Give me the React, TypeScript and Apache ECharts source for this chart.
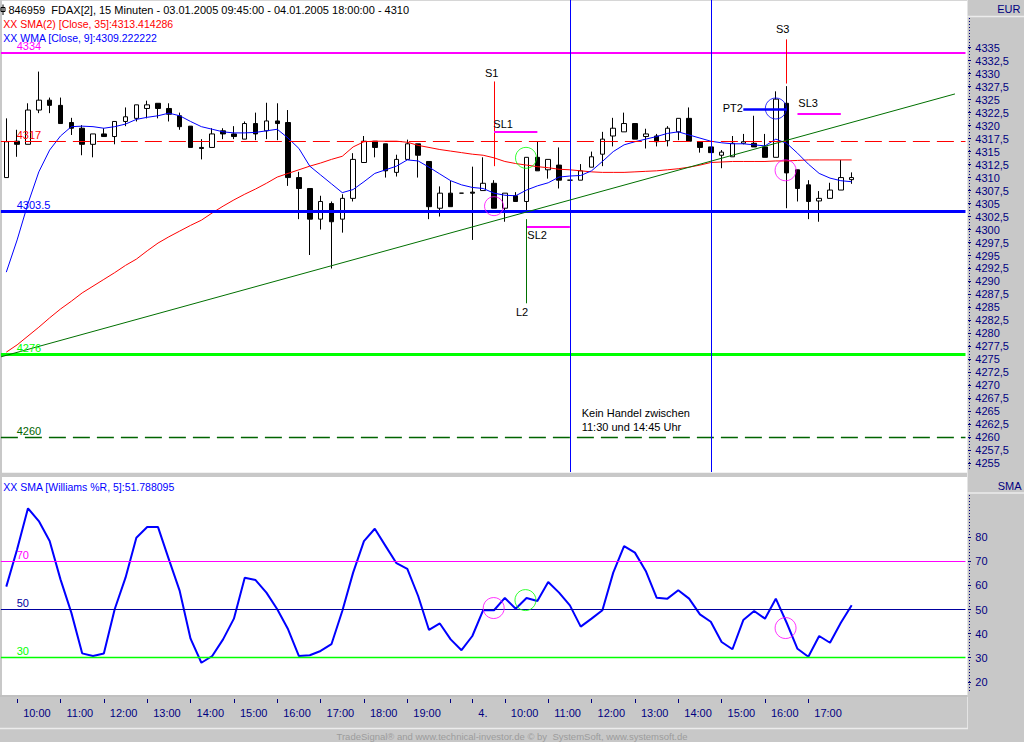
import React, { useEffect, useRef } from 'react';
import * as echarts from 'echarts';

// ---------- DATA ----------
const opens = [
  4310.0, 4317.0, 4316.4, 4323.0, 4324.9, 4323.9, 4320.6, 4319.5, 4316.4, 4318.4,
  4317.9, 4320.8, 4321.4, 4323.3, 4324.3, 4323.3, 4321.9, 4319.9, 4315.8, 4315.8,
  4319.0, 4318.4, 4317.4, 4320.4, 4319.0, 4320.9, 4320.6, 4310.0, 4307.9, 4302.0,
  4305.0, 4302.0, 4306.0, 4312.9, 4317.0, 4316.5, 4311.0, 4313.5, 4316.5, 4313.1,
  4304.1, 4307.0, 4307.0, 4307.2, 4307.5, 4308.9, 4304.1, 4306.5, 4305.4, 4313.9,
  4311.5, 4312.4, 4309.5, 4309.5, 4312.0, 4314.5, 4318.0, 4318.8, 4320.4, 4317.9,
  4318.0, 4317.1, 4318.8, 4321.4, 4316.9, 4315.9, 4314.3, 4314.0, 4316.6, 4316.6,
  4315.9, 4313.9, 4324.3, 4311.5, 4308.6, 4305.5, 4306.0, 4307.6, 4309.6,
];
const closes = [
  4316.9, 4316.4, 4323.0, 4324.9, 4323.9, 4320.4, 4319.5, 4316.4, 4318.4, 4317.9,
  4320.8, 4321.7, 4324.0, 4324.0, 4323.3, 4322.2, 4319.8, 4315.8, 4315.6, 4318.4,
  4318.4, 4317.9, 4320.4, 4318.4, 4320.9, 4320.4, 4310.0, 4307.9, 4302.0, 4305.4,
  4301.5, 4306.0, 4313.5, 4317.0, 4315.8, 4311.3, 4313.5, 4316.5, 4314.3, 4304.4,
  4307.0, 4304.4, 4307.0, 4307.0, 4308.9, 4304.1, 4307.0, 4305.4, 4313.9, 4311.3,
  4313.5, 4309.5, 4309.5, 4311.3, 4314.0, 4317.4, 4319.5, 4320.4, 4317.4, 4318.4,
  4316.9, 4319.5, 4321.4, 4317.0, 4315.8, 4314.8, 4314.9, 4316.6, 4316.9, 4315.9,
  4313.9, 4325.1, 4310.9, 4307.9, 4305.4, 4306.0, 4307.6, 4310.0, 4310.0,
];
const lows = [
  4310.0, 4314.0, 4316.4, 4322.4, 4322.4, 4320.4, 4318.2, 4314.3, 4313.9, 4317.9,
  4316.4, 4319.9, 4320.8, 4321.4, 4321.4, 4320.8, 4319.2, 4315.8, 4313.5, 4315.8,
  4317.4, 4317.4, 4317.4, 4317.2, 4317.4, 4317.2, 4308.4, 4302.0, 4295.1, 4300.0,
  4292.5, 4299.4, 4305.4, 4312.9, 4313.9, 4310.0, 4310.2, 4313.5, 4310.0, 4302.0,
  4302.5, 4304.4, 4307.0, 4298.0, 4307.5, 4304.1, 4301.5, 4305.4, 4303.4, 4311.3,
  4309.8, 4307.9, 4309.5, 4309.5, 4312.0, 4312.2, 4316.0, 4318.8, 4317.4, 4315.6,
  4316.0, 4316.0, 4317.2, 4317.0, 4314.8, 4314.8, 4311.8, 4314.0, 4316.4, 4315.9,
  4313.9, 4313.9, 4304.1, 4305.4, 4302.0, 4301.5, 4306.0, 4307.6, 4308.8,
];
const highs = [
  4321.4, 4319.2, 4324.3, 4330.4, 4325.4, 4325.4, 4321.5, 4320.1, 4318.4, 4319.5,
  4320.8, 4323.5, 4324.0, 4324.8, 4324.3, 4324.3, 4322.5, 4319.9, 4317.4, 4319.5,
  4319.5, 4319.9, 4320.8, 4322.5, 4324.4, 4324.3, 4323.0, 4311.1, 4307.9, 4306.5,
  4305.4, 4306.8, 4314.7, 4318.0, 4317.0, 4316.5, 4314.4, 4317.3, 4316.5, 4313.1,
  4308.3, 4309.4, 4307.0, 4312.1, 4313.9, 4309.5, 4307.0, 4307.2, 4313.9, 4317.0,
  4313.5, 4315.8, 4309.5, 4312.6, 4315.0, 4318.8, 4321.5, 4322.5, 4320.4, 4319.4,
  4318.4, 4319.9, 4321.4, 4323.5, 4316.9, 4315.9, 4315.3, 4318.0, 4318.4, 4321.9,
  4318.4, 4326.6, 4327.6, 4311.5, 4309.5, 4307.4, 4309.0, 4313.4, 4311.0,
];
const wma9 = [
  4291.8, 4298.0, 4305.0, 4311.1, 4315.3, 4318.0, 4319.8, 4319.9, 4319.8, 4319.5,
  4319.8, 4320.3, 4321.2, 4321.6, 4321.9, 4322.4, 4321.9, 4320.8, 4319.8, 4319.3,
  4318.8, 4318.6, 4318.6, 4318.7, 4319.0, 4319.3, 4317.6, 4315.6, 4312.2, 4310.5,
  4308.8, 4307.1, 4307.7, 4309.2, 4310.8, 4311.5, 4312.2, 4313.4, 4313.2, 4312.0,
  4310.7, 4309.4, 4308.6, 4308.1, 4307.9, 4307.0, 4306.6, 4306.5, 4307.6, 4308.4,
  4309.0, 4310.1, 4310.3, 4310.4, 4311.3, 4313.1, 4315.0, 4316.3, 4316.9, 4317.4,
  4317.9, 4318.5, 4318.8, 4318.2, 4317.6, 4317.0, 4316.7, 4316.5, 4316.5, 4316.3,
  4316.1, 4317.4, 4316.6, 4314.7, 4312.6, 4310.8, 4309.9, 4309.4, 4309.2,
];
const sma35 = [
  4276.4, 4277.8, 4279.5, 4281.2, 4283.0, 4284.7, 4286.2, 4287.8, 4289.1, 4290.4,
  4291.7, 4293.1, 4294.3, 4295.9, 4297.4, 4298.6, 4299.7, 4300.8, 4301.8, 4303.2,
  4304.5, 4305.7, 4306.8, 4307.8, 4308.9, 4310.1, 4310.8, 4311.5, 4312.2, 4312.8,
  4313.5, 4314.1, 4315.9, 4316.9, 4317.0, 4317.0, 4317.0, 4316.8, 4316.2, 4315.8,
  4315.4, 4315.1, 4314.8, 4314.5, 4314.3, 4313.8, 4313.1, 4312.7, 4312.4, 4312.1,
  4311.9, 4311.6, 4311.5, 4311.3, 4311.1, 4311.0, 4311.0, 4311.0, 4311.1, 4311.2,
  4311.3, 4311.5, 4311.7, 4312.0, 4312.4, 4312.9, 4313.0, 4313.1, 4313.1, 4313.1,
  4313.1, 4313.2, 4313.2, 4313.3, 4313.4, 4313.4, 4313.4, 4313.4, 4313.4,
];
const williamsSma = [
  59.5, 75.0, 92.0, 86.7, 78.4, 62.5, 48.7, 31.8, 30.7, 31.7,
  50.1, 63.2, 79.8, 84.2, 84.2, 70.8, 57.7, 37.9, 27.9, 30.7,
  37.6, 46.2, 63.2, 62.2, 57.0, 50.1, 41.8, 30.7, 31.0, 32.8,
  35.6, 49.4, 65.3, 78.4, 83.5, 76.3, 69.2, 66.9, 55.6, 41.5,
  44.2, 37.6, 33.1, 39.0, 49.7, 49.7, 54.8, 50.3, 54.8, 53.5,
  61.4, 57.0, 51.7, 42.9, 46.2, 49.7, 65.3, 76.3, 73.6, 66.0,
  54.9, 54.5, 58.0, 54.5, 48.0, 44.9, 36.5, 33.5, 45.6, 49.4,
  46.2, 54.5, 44.5, 33.7, 30.4, 39.0, 36.2, 44.5, 51.8,
];

// horizontal price levels
const priceLevels = [4334, 4317, 4303.5, 4276, 4260];
const priceLevelLabels = ['4334', '4317', '4303.5', '4276', '4260'];
// Williams %R levels
const wrLevels = [70, 50, 30];
// vertical lines at bars 11:30 and 14:45 (day 2)
const markerBars = [52, 65];
// trend line [barIndex, price]
const trendLine = [[-0.49, 4275.5], [87.53, 4326.1]];
// signal segments [bar1, price1, bar2, price2]
const segS1 = [45, 4328.5, 45, 4312.2];
const segSL1 = [45, 4318.8, 49, 4318.8];
const segSL2 = [48, 4300.6, 52, 4300.6];
const segL2 = [48, 4302.0, 48, 4285.8];
const segS3 = [72, 4336.6, 72, 4328.1];
const segPT2 = [68, 4323.1, 72, 4323.1];
const segSL3 = [73, 4322.2, 77, 4322.2];
// circles [bar, value]
const priceCircles = [[45.0, 4304.5], [47.95, 4313.8], [71.0, 4323.3], [71.9, 4311.4]];
const wrCircles = [[44.97, 50.6], [47.9, 53.9], [71.9, 42.3]];

// x-axis ticks and labels
const tickIndex = [1, 5, 9, 13, 17, 21, 25, 29, 33, 37, 41, 43, 46, 50, 54, 58, 62, 66, 70, 74];
const tickLabel = ['10:00', '11:00', '12:00', '13:00', '14:00', '15:00', '16:00', '17:00', '18:00', '19:00', '',
  '4.', '10:00', '11:00', '12:00', '13:00', '14:00', '15:00', '16:00', '17:00'];

function makeTimes(day: string, h: number, m: number, count: number): string[] {
  const out: string[] = [];
  let t = h * 60 + m;
  for (let k = 0; k < count; k++) {
    const hh = String(Math.floor(t / 60)).padStart(2, '0');
    const mm = String(t % 60).padStart(2, '0');
    out.push(day + ' ' + hh + ':' + mm);
    t += 15;
  }
  return out;
}
const barTimes = [...makeTimes('03.01', 9, 45, 43), ...makeTimes('04.01', 9, 15, 36)];
const SLOTS = 89;
const categories = [...barTimes];
for (let k = barTimes.length; k < SLOTS; k++) categories.push('#' + k);

// ---------- STYLE ----------
const FONT = '"Liberation Sans", Arial, sans-serif';
const GREY = '#c8c8c8';
const NAVY = '#000080';
const MAGENTA = '#ff00ff';
const RED = '#ff0000';
const BLUE = '#0000ff';
const LIME = '#00ff00';
const DKGREEN = '#006400';

const levelStyles = [
  { color: MAGENTA, width: 2, type: 'solid' },
  { color: RED, width: 1, type: [17, 7] },
  { color: BLUE, width: 3, type: 'solid' },
  { color: LIME, width: 3, type: 'solid' },
  { color: DKGREEN, width: 1.3, type: [17, 7] },
];
const levelLabelColors = [MAGENTA, RED, BLUE, LIME, DKGREEN];
const wrStyles = [
  { color: MAGENTA, width: 1 },
  { color: '#0000a0', width: 1 },
  { color: LIME, width: 1.3 },
];
const wrLabelColors = [MAGENTA, '#0000a0', LIME];

function seg(s: number[], style: any) {
  return [{ coord: [s[0], s[1]], lineStyle: style }, { coord: [s[2], s[3]] }];
}

function txt(x: number, y: number, text: string, color: string, size = 11, align = 'left') {
  return {
    type: 'text', x, y, z: 50, silent: true,
    style: {
      text, fill: color, font: `${size}px ${FONT}`,
      align, verticalAlign: 'middle', textAlign: align, textVerticalAlign: 'middle',
    },
  };
}
function hline(x1: number, x2: number, y: number, color: string, w = 1, z = 40) {
  return { type: 'line', z, silent: true, shape: { x1, y1: y, x2, y2: y }, style: { stroke: color, lineWidth: w } };
}
function vline(x: number, y1: number, y2: number, color: string, w = 1, dash?: number[]) {
  return { type: 'line', z: 40, silent: true, shape: { x1: x, y1, x2: x, y2 }, style: { stroke: color, lineWidth: w, lineDash: dash } };
}

function buildOption() {
  const candleData = opens.map((o, i) => [o, closes[i], lows[i], highs[i]]);
  const tickSet = new Set(tickIndex);
  const labelOf: Record<number, string> = {};
  tickIndex.forEach((idx, k) => { labelOf[idx] = tickLabel[k]; });

  const mainTop = 0, mainH = 472;
  const yMin = 4253.33, yMax = 4344.18;
  const yPix = (v: number) => mainTop + (yMax - v) / (yMax - yMin) * mainH;
  const subTop = 477, subH = 218;
  const wMin = 14.52, wMax = 104.98;
  const wPix = (v: number) => subTop + (wMax - v) / (wMax - wMin) * subH;

  const labelAxis = (gridIndex: number, min: number, max: number, interval: number) => ({
    type: 'value', gridIndex, min, max, interval, position: 'right',
    axisLine: { show: false },
    axisTick: { show: true, length: 3, lineStyle: { color: NAVY } },
    axisLabel: {
      color: NAVY, fontSize: 11, fontFamily: FONT, margin: 6,
      formatter: (v: number) => String(v).replace('.', ','),
    },
    splitLine: { show: false },
  });

  const graphics: any[] = [
    { type: 'rect', z: -10, silent: true, shape: { x: 2, y: 0.8, width: 965, height: 471.9 }, style: { fill: '#ffffff' } },
    { type: 'rect', z: -10, silent: true, shape: { x: 2, y: 477, width: 965, height: 218 }, style: { fill: '#ffffff' } },
    vline(967.5, 0, 728, '#e4e4e4', 1),
    hline(967, 1024, 16.5, '#ececec', 1.5),
    hline(967, 1024, 493, '#ececec', 1.5),
    hline(0, 968, 728.5, '#ececec', 1.5),
    hline(0, 968, 696, '#b8b8b8', 1),
    vline(969.5, 18, 470, NAVY, 1, [1, 2]),
    vline(969.5, 495, 692, NAVY, 1, [1, 2]),
    { type: 'rect', z: 50, silent: true, shape: { x: 1, y: 7.5, width: 4, height: 4 }, style: { fill: 'none', stroke: '#000', lineWidth: 1 } },
    vline(3, 4.5, 15, '#000', 1),
    txt(8.5, 10, '846959  FDAX[2], 15 Minuten - 03.01.2005 09:45:00 - 04.01.2005 18:00:00 - 4310', '#000', 11),
    txt(3.3, 23.5, 'XX SMA(2) [Close, 35]:4313.414286', RED, 10.5),
    txt(3.3, 37.5, 'XX WMA [Close, 9]:4309.222222', BLUE, 10.5),
    txt(3.3, 486.5, 'XX SMA [Williams %R, 5]:51.788095', BLUE, 10.5),
    txt(1020.5, 8.5, 'EUR', NAVY, 11, 'right'),
    txt(1021.5, 485.5, 'SMA', NAVY, 11, 'right'),
    txt(485, 72.5, 'S1', '#000'),
    txt(493.3, 123.8, 'SL1', '#000'),
    txt(527.3, 235, 'SL2', '#000'),
    txt(516, 312.3, 'L2', '#000'),
    txt(776, 29.2, 'S3', '#000'),
    txt(722.7, 107.5, 'PT2', '#000'),
    txt(798.3, 103.3, 'SL3', '#000'),
    txt(581.7, 412.8, 'Kein Handel zwischen', '#000'),
    txt(581.7, 426.7, '11:30 und 14:45 Uhr', '#000'),
    txt(512, 736, 'TradeSignal\u00ae and www.technical-investor.de \u00a9 by  SystemSoft, www.systemsoft.de', '#9c9c9c', 9.5, 'center'),
  ];
  priceLevels.forEach((v, k) => graphics.push(txt(16.7, yPix(v) - 6.5, priceLevelLabels[k], levelLabelColors[k])));
  wrLevels.forEach((v, k) => graphics.push(txt(16.7, wPix(v) - 6.5, String(v), wrLabelColors[k])));

  return {
    animation: false,
    backgroundColor: GREY,
    textStyle: { fontFamily: FONT },
    grid: [
      { left: 0.88, top: mainTop, width: 964.6, height: mainH },
      { left: 968, top: 47.7, width: 1.3, height: 415.6 },
      { left: 0.88, top: subTop, width: 964.6, height: subH },
      { left: 968, top: 537.2, width: 1.3, height: 144.6 },
    ],
    xAxis: [
      { type: 'category', gridIndex: 0, data: categories, boundaryGap: true, show: false },
      { type: 'value', gridIndex: 0, min: -0.5, max: SLOTS - 0.5, show: false },
      {
        type: 'category', gridIndex: 2, data: categories, boundaryGap: true, position: 'bottom', offset: 4,
        axisLine: { show: false },
        axisTick: {
          show: true, alignWithLabel: true, length: 4, lineStyle: { color: NAVY },
          interval: (idx: number) => tickSet.has(idx),
        },
        axisLabel: {
          color: NAVY, fontSize: 11, fontFamily: FONT, margin: 8, align: 'left', padding: [0, 0, 0, 6],
          interval: (idx: number) => tickSet.has(idx) && labelOf[idx] !== '',
          formatter: (_v: string, idx: number) => labelOf[idx] || '',
        },
        splitLine: { show: false },
      },
      { type: 'value', gridIndex: 2, min: -0.5, max: SLOTS - 0.5, show: false },
      { type: 'value', gridIndex: 1, show: false },
      { type: 'value', gridIndex: 3, show: false },
    ],
    yAxis: [
      { type: 'value', gridIndex: 0, min: yMin, max: yMax, show: false },
      labelAxis(1, 4255, 4335, 2.5),
      { type: 'value', gridIndex: 2, min: wMin, max: wMax, show: false },
      labelAxis(3, 20, 80, 10),
    ],
    series: [
      {
        type: 'candlestick', xAxisIndex: 0, yAxisIndex: 0, data: candleData, barWidth: 5, z: 3, silent: true,
        itemStyle: { color: '#ffffff', color0: '#000000', borderColor: '#000000', borderColor0: '#000000', borderWidth: 1 },
      },
      {
        type: 'line', xAxisIndex: 0, yAxisIndex: 0, data: sma35, symbol: 'none', z: 4, silent: true,
        lineStyle: { color: RED, width: 1 },
      },
      {
        type: 'line', xAxisIndex: 0, yAxisIndex: 0, data: wma9, symbol: 'none', z: 4, silent: true,
        lineStyle: { color: BLUE, width: 1 },
      },
      {
        type: 'line', xAxisIndex: 1, yAxisIndex: 0, data: [], z: 5, silent: true,
        markLine: {
          silent: true, symbol: ['none', 'none'], label: { show: false }, emphasis: { disabled: true },
          data: [
            ...priceLevels.map((v, k) => ({ yAxis: v, lineStyle: levelStyles[k] })),
            ...markerBars.map((b) => ({ xAxis: b, lineStyle: { color: BLUE, width: 1, type: 'solid' } })),
            [{ coord: trendLine[0], lineStyle: { color: '#007000', width: 1, type: 'solid' } }, { coord: trendLine[1] }],
            seg(segS1, { color: RED, width: 1, type: 'solid' }),
            seg(segSL1, { color: MAGENTA, width: 2, type: 'solid' }),
            seg(segSL2, { color: MAGENTA, width: 2, type: 'solid' }),
            seg(segL2, { color: '#007000', width: 1, type: 'solid' }),
            seg(segS3, { color: RED, width: 1, type: 'solid' }),
            seg(segPT2, { color: BLUE, width: 2.5, type: 'solid' }),
            seg(segSL3, { color: MAGENTA, width: 2, type: 'solid' }),
          ],
        },
      },
      {
        type: 'scatter', xAxisIndex: 1, yAxisIndex: 0, z: 6, silent: true, symbol: 'circle',
        data: priceCircles.map((p, k) => ({
          value: p,
          symbolSize: k === 0 ? 19 : 21,
          itemStyle: { color: 'rgba(0,0,0,0)', borderWidth: 1, borderColor: [MAGENTA, LIME, BLUE, MAGENTA][k] },
        })),
      },
      {
        type: 'line', xAxisIndex: 3, yAxisIndex: 2, data: [], z: 3, silent: true,
        markLine: {
          silent: true, symbol: ['none', 'none'], label: { show: false }, emphasis: { disabled: true },
          data: wrLevels.map((v, k) => ({ yAxis: v, lineStyle: { ...wrStyles[k], type: 'solid' } })),
        },
      },
      {
        type: 'line', xAxisIndex: 2, yAxisIndex: 2, data: williamsSma, symbol: 'none', z: 4, silent: true,
        lineStyle: { color: BLUE, width: 2 },
      },
      {
        type: 'scatter', xAxisIndex: 3, yAxisIndex: 2, z: 6, silent: true, symbol: 'circle',
        data: wrCircles.map((p, k) => ({
          value: p,
          symbolSize: 21,
          itemStyle: { color: 'rgba(0,0,0,0)', borderWidth: 1, borderColor: [MAGENTA, LIME, MAGENTA][k] },
        })),
      },
    ],
    graphic: { elements: graphics },
  };
}

export default function App() {
  const ref = useRef<HTMLDivElement>(null);
  useEffect(() => {
    if (!ref.current) return;
    const chart = echarts.init(ref.current, null, { renderer: 'svg', width: 1024, height: 742 });
    chart.setOption(buildOption() as any);
    return () => chart.dispose();
  }, []);
  return <div ref={ref} style={{ position: 'fixed', left: 0, top: 0, width: 1024, height: 742 }} />;
}
